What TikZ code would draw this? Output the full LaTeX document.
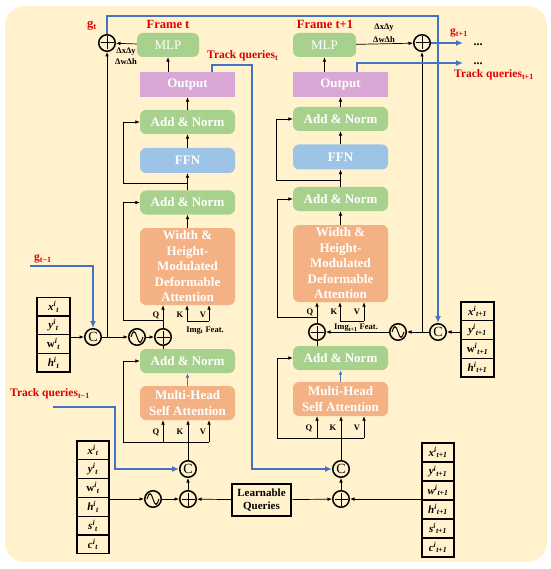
\documentclass[tikz,border=0pt]{standalone}
\usepackage{fontspec}
\setmainfont{Liberation Serif}
\usetikzlibrary{arrows.meta,calc}
\definecolor{bgc}{HTML}{FFF2CC}
\definecolor{gbox}{HTML}{A9D18E}
\definecolor{bbox}{HTML}{9DC3E6}
\definecolor{obox}{HTML}{F4B183}
\definecolor{pbox}{HTML}{D9A7D6}
\definecolor{lblue}{HTML}{4472C4}
\definecolor{lred}{HTML}{E00000}
\begin{document}
\begin{tikzpicture}[x=1pt,y=-1pt,
  box/.style={rounded corners=6pt, minimum width=95pt, minimum height=24pt, inner sep=0pt, text=white, font=\fontsize{13}{15.5}\selectfont\bfseries, align=center},
  gbx/.style={box, fill=gbox},
  bbx/.style={box, fill=bbox, minimum height=25pt},
  obx/.style={box, fill=obox},
  pbx/.style={box, fill=pbox, rounded corners=0pt, minimum height=25pt},
  mlpbox/.style={box, fill=gbox, minimum width=62pt, font=\fontsize{13}{15}\selectfont},
  ar/.style={draw=black, line width=0.7pt, -{Latex[length=4.5pt,width=3.6pt]}},
  ln/.style={draw=black, line width=0.7pt},
  bl/.style={draw=lblue, line width=1.6pt, -{Latex[length=7pt,width=6pt]}},
  bla/.style={draw=lblue, line width=1pt, -{Latex[length=4.5pt,width=3.6pt]}},
  cir/.style={circle, draw, line width=1.5pt, minimum size=16.5pt, inner sep=0pt, fill=bgc},
  plusn/.style={cir, path picture={\draw[line width=1pt] ([xshift=-6.5pt]path picture bounding box.center) -- ([xshift=6.5pt]path picture bounding box.center); \draw[line width=1pt] ([yshift=-6.5pt]path picture bounding box.center) -- ([yshift=6.5pt]path picture bounding box.center);}},
  sinen/.style={cir, path picture={\draw[line width=1pt] ([xshift=-6pt]path picture bounding box.center) sin ++(3pt,5.5pt) cos ++(3pt,-5.5pt) sin ++(3pt,-5.5pt) cos ++(3pt,5.5pt);}},
  catn/.style={cir, font=\fontsize{14}{14}\selectfont},
  cell/.style={draw, line width=1.3pt, minimum width=33pt, minimum height=18.7pt, inner sep=0pt, font=\fontsize{11}{12}\selectfont\bfseries\itshape},
  lab/.style={text=lred, font=\fontsize{12.5}{14}\selectfont\bfseries, inner sep=0pt},
  labs/.style={text=lred, font=\fontsize{11.5}{13}\selectfont\bfseries, inner sep=0pt},
  sm/.style={font=\fontsize{8.5}{10}\selectfont\bfseries, inner sep=0pt},
  dotn/.style={font=\fontsize{12}{12}\selectfont\bfseries, inner sep=0pt, anchor=base}
]
\useasboundingbox (0,0) rectangle (550,569);
\fill[bgc, rounded corners=20pt] (5,6) rectangle (547,562);

% ---------- left column ----------
\node[mlpbox] (mlpL) at (168,45) {MLP};
\node[pbx] (outL) at (187.5,84.5) {Output};
\node[gbx] (an1L) at (187.5,122) {Add \& Norm};
\node[bbx] (ffnL) at (187.5,160.5) {FFN};
\node[gbx] (an2L) at (187.5,202.5) {Add \& Norm};
\node[obx, minimum height=77pt] (attL) at (187.5,266.5) {Width \&\\Height-\\Modulated\\Deformable\\Attention};
\node[gbx] (an3L) at (187.5,361) {Add \& Norm};
\node[obx, minimum height=34pt, font=\fontsize{13}{16}\selectfont\bfseries] (mhaL) at (187.5,403) {Multi-Head\\Self Attention};

% ---------- right column ----------
\node[mlpbox, minimum width=63pt] (mlpR) at (324.5,45) {MLP};
\node[pbx] (outR) at (340.5,84.5) {Output};
\node[gbx] (an1R) at (340.5,119) {Add \& Norm};
\node[bbx] (ffnR) at (340.5,157) {FFN};
\node[gbx] (an2R) at (340.5,199) {Add \& Norm};
\node[obx, minimum height=77pt] (attR) at (340.5,263.5) {Width \&\\Height-\\Modulated\\Deformable\\Attention};
\node[gbx] (an3R) at (340.5,358) {Add \& Norm};
\node[obx, minimum height=34pt, font=\fontsize{13}{16}\selectfont\bfseries] (mhaR) at (340.5,399) {Multi-Head\\Self Attention};

% ---------- circles ----------
\node[plusn] (plusTL) at (107,43) {};
\node[catn] (cL) at (93,337) {C};
\node[sinen] (sinL) at (137,337) {};
\node[plusn] (plusL) at (163,337) {};
\node[catn] (cBL) at (188,469) {C};
\node[plusn] (plusBL) at (188,499) {};
\node[sinen] (sinBL) at (153,499) {};
\node[plusn] (plusTR) at (422,43) {};
\node[catn] (cR) at (438,332) {C};
\node[sinen] (sinR) at (398,332) {};
\node[plusn] (plusR) at (317,332) {};
\node[catn] (cBR) at (341,469) {C};
\node[plusn] (plusBR) at (341,499) {};

\node[draw, line width=1.3pt, minimum width=59pt, minimum height=32pt, inner sep=0pt, align=center, font=\fontsize{11}{13}\selectfont\bfseries] (lq) at (261.5,500) {Learnable\\Queries};

% ---------- tables ----------
\node[cell] (tl1) at (53.5,306.6) {x\textsuperscript{i}\textsubscript{t}};
\node[cell] (tl2) at (53.5,325.3) {y\textsuperscript{i}\textsubscript{t}};
\node[cell] (tl3) at (53.5,344) {\upshape w\textsuperscript{\itshape i}\textsubscript{\itshape t}};
\node[cell] (tl4) at (53.5,362.7) {h\textsuperscript{i}\textsubscript{t}};

\node[cell] (tr1) at (477.5,311.4) {x\textsuperscript{i}\textsubscript{t+1}};
\node[cell] (tr2) at (477.5,330.1) {y\textsuperscript{i}\textsubscript{t+1}};
\node[cell] (tr3) at (477.5,348.8) {\upshape w\textsuperscript{\itshape i}\textsubscript{\itshape t+1}};
\node[cell] (tr4) at (477.5,367.5) {h\textsuperscript{i}\textsubscript{t+1}};

\node[cell, minimum width=32pt, minimum height=18.8pt] (tb1) at (93,450.4) {x\textsuperscript{i}\textsubscript{t}};
\node[cell, minimum width=32pt, minimum height=18.8pt] (tb2) at (93,469.2) {y\textsuperscript{i}\textsubscript{t}};
\node[cell, minimum width=32pt, minimum height=18.8pt] (tb3) at (93,488) {\upshape w\textsuperscript{\itshape i}\textsubscript{\itshape t}};
\node[cell, minimum width=32pt, minimum height=18.8pt] (tb4) at (93,506.8) {h\textsuperscript{i}\textsubscript{t}};
\node[cell, minimum width=32pt, minimum height=18.8pt] (tb5) at (93,525.6) {s\textsuperscript{i}\textsubscript{t}};
\node[cell, minimum width=32pt, minimum height=18.8pt] (tb6) at (93,544.4) {c\textsuperscript{i}\textsubscript{t}};

\node[cell, minimum width=32pt, minimum height=19pt] (tc1) at (438,452.5) {x\textsuperscript{i}\textsubscript{t+1}};
\node[cell, minimum width=32pt, minimum height=19pt] (tc2) at (438,471.5) {y\textsuperscript{i}\textsubscript{t+1}};
\node[cell, minimum width=32pt, minimum height=19pt] (tc3) at (438,490.5) {w\textsuperscript{i}\textsubscript{t+1}};
\node[cell, minimum width=32pt, minimum height=19pt] (tc4) at (438,509.5) {h\textsuperscript{i}\textsubscript{t+1}};
\node[cell, minimum width=32pt, minimum height=19pt] (tc5) at (438,528.5) {s\textsuperscript{i}\textsubscript{t+1}};
\node[cell, minimum width=32pt, minimum height=19pt] (tc6) at (438,547.5) {c\textsuperscript{i}\textsubscript{t+1}};

% ---------- labels ----------
\node[lab] (lgt) at (92,26) {g\textsubscript{t}};
\node[lab] (lft) at (168,24) {Frame t};
\node[lab] (lftn) at (325,24) {Frame t+1};
\node[labs, anchor=west] (ltq) at (207,56) {Track queries\textsubscript{t}};
\node[labs] (lgn) at (459,33) {g\textsubscript{t+1}};
\node[dotn] (dots1) at (478,46) {...};
\node[dotn] (dots2) at (478,65) {...};
\node[labs] (ltqn) at (494,75) {Track queries\textsubscript{t+1}};
\node[labs] (lgp) at (43,259) {g\textsubscript{t−1}};
\node[labs] (ltqp) at (50,394) {Track queries\textsubscript{t−1}};
\node[sm] (dl1) at (126,52) {ΔxΔy};
\node[sm] (dl2) at (126,62) {ΔwΔh};
\node[sm] (dr1) at (384,28) {ΔxΔy};
\node[sm] (dr2) at (384,40) {ΔwΔh};

% QKV labels
\node[sm] (qa) at (156,315) {Q};
\node[sm] (ka) at (180,315) {K};
\node[sm] (va) at (203,315) {V};
\node[sm] (imgL) at (205,331) {Img\textsubscript{t} Feat.};
\node[sm] (qb) at (156,432) {Q};
\node[sm] (kb) at (180,432) {K};
\node[sm] (vb) at (203,432) {V};
\node[sm] (qc) at (310,312) {Q};
\node[sm] (kc) at (334,312) {K};
\node[sm] (vc) at (357,312) {V};
\node[sm] (imgR) at (356,328) {Img\textsubscript{t+1} Feat.};
\node[sm] (qd) at (309,428) {Q};
\node[sm] (kd) at (333,428) {K};
\node[sm] (vd) at (357,428) {V};

% ---------- coordinates ----------
\coordinate (gtop) at (438,16);
\coordinate (tq0) at (212,65);
\coordinate (tq1) at (252,65);
\coordinate (gn) at (463,43);
\coordinate (tqn0) at (357,63);
\coordinate (tqn1) at (463,63);
\coordinate (gp) at (30,266);
\coordinate (tqp) at (53,407);
\coordinate (tqpc) at (115,407);
\coordinate (rL) at (123,320);
\coordinate (kL) at (187,321);
\coordinate (vL) at (209,321);
\coordinate (ffL) at (123,183);
\coordinate (bL) at (123,442);
\coordinate (bvL) at (209,442);
\coordinate (rR) at (277,317);
\coordinate (kR) at (340,321);
\coordinate (vR) at (364,321);
\coordinate (ffR) at (276,180);
\coordinate (bR) at (277,438);
\coordinate (bvR) at (364,438);

% ---------- black connectors: left ----------
\draw[ar] (attL) -- (an2L);
\draw[ar] (an2L) -- (ffnL);
\draw[ar] (ffnL) -- (an1L);
\draw[ar] (an1L) -- (outL);
\draw[ar] (outL.north -| mlpL) -- (mlpL);
\draw[ar] (mlpL) -- (plusTL);
\draw[ln] (ffL -| ffnL) -- (ffL);
\draw[ar] (ffL) |- (an1L.west);
\draw[ar] (cL -| tl1.east) -- (cL);
\draw[ar] (cL) -- (sinL);
\draw[ar] (cL -| plusTL) -- (plusTL);
\draw[ar] (sinL) -- (plusL);
\draw[ar] (plusL) -- (plusL |- attL.south);
\draw[ln] (rL -| plusL) -- (rL);
\draw[ar] (rL) |- (an2L.west);
\draw[ln] (kL) -- (vL);
\draw[ar] (kL) -- (kL |- attL.south);
\draw[ar] (vL) -- (vL |- attL.south);
\draw[ln] (an3L.north -| plusL) -- (plusL);
\draw[bla] (mhaL) -- (an3L);
\draw[ln] (bL) -- (bvL);
\draw[ar] (bL -| plusL) -- (plusL |- mhaL.south);
\draw[ar] (bvL) -- (bvL |- mhaL.south);
\draw[ar] (bL) |- (an3L.west);
\draw[ar] (cBL) -- (cBL |- mhaL.south);
\draw[ar] (plusBL) -- (cBL);
\draw[ar] (plusBL -| tb1.east) -- (sinBL);
\draw[ar] (sinBL) -- (plusBL);
\draw[ar] (lq) -- (plusBL);

% ---------- black connectors: right ----------
\draw[ar] (attR) -- (an2R);
\draw[ar] (an2R) -- (ffnR);
\draw[ar] (ffnR) -- (an1R);
\draw[ar] (an1R) -- (outR);
\draw[ar] (outR.north -| mlpR) -- (mlpR);
\draw[ar] (mlpR) -- (plusTR);
\draw[ln] (ffR -| ffnR) -- (ffR);
\draw[ar] (ffR) |- (an1R.west);
\draw[ar] (cR -| tr1.west) -- (cR);
\draw[ar] (cR) -- (sinR);
\draw[ar] (cR -| plusTR) -- (plusTR);
\draw[ar] (sinR) -- (plusR);
\draw[ar] (plusR) -- (plusR |- attR.south);
\draw[ln] (rR -| plusR) -- (rR);
\draw[ar] (rR) |- (an2R.west);
\draw[ln] (kR) -- (vR);
\draw[ar] (kR) -- (kR |- attR.south);
\draw[ar] (vR) -- (vR |- attR.south);
\draw[ln] (an3R.north -| plusR) -- (plusR);
\draw[bla] (mhaR) -- (an3R);
\draw[ln] (bR) -- (bvR);
\draw[ar] (bR -| plusR) -- (plusR |- mhaR.south);
\draw[ar] (bvR) -- (bvR |- mhaR.south);
\draw[ar] (bR) |- (an3R.west);
\draw[ar] (cBR) -- (cBR |- mhaR.south);
\draw[ar] (plusBR) -- (cBR);
\draw[ar] (lq) -- (plusBR);
\draw[ar] (plusBR -| tc1.west) -- (plusBR);

% ---------- blue connectors ----------
\draw[bl] (plusTL.north) |- (gtop) -- (cR.north);
\draw[bl] (tq0 |- outL.north) -- (tq0) -- (tq1) |- (cBR.west);
\draw[bl] (plusTR.east) -- (gn);
\draw[bl] (tqn0 |- outR.north) -- (tqn0) -- (tqn1);
\draw[bl] (gp) -| (cL.north);
\draw[bl] (tqp) -- (tqpc) |- (cBL.west);
\fill[lblue] (gtop |- gn) circle (1.6pt) (gtop |- tqn1) circle (1.6pt);
\end{tikzpicture}
\end{document}
